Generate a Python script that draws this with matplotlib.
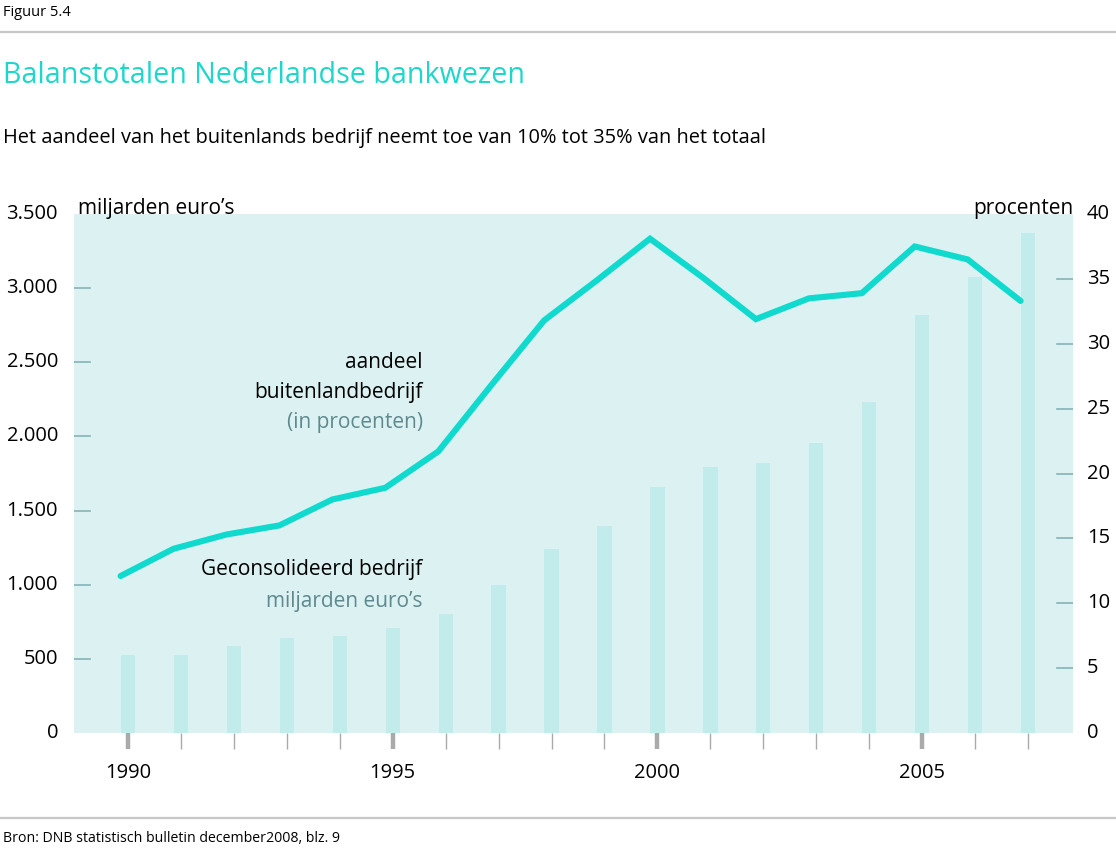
import matplotlib
matplotlib.use("Agg")
import matplotlib.pyplot as plt
import numpy as np

plt.rcParams["font.family"] = ["Open Sans", "DejaVu Sans"]

# data
years = list(range(1990, 2008))
balans_mld = [525, 526, 588, 644, 656, 711, 804, 1000, 1241, 1397,
              1660, 1791, 1822, 1953, 2234, 2816, 3078, 3375]
aandeel_pct = [12.1, 14.2, 15.3, 16.0, 18.0, 18.9, 21.7, 26.8, 31.8, 34.9,
               38.1, 35.1, 31.9, 33.5, 33.9, 37.5, 36.5, 33.3]
left_ticks = [500, 1000, 1500, 2000, 2500, 3000]
left_labels = ["500", "1.000", "1.500", "2.000", "2.500", "3.000"]
right_ticks = [5, 10, 15, 20, 25, 30, 35]
year_labels = [1990, 1995, 2000, 2005]

BG = "#dcf1f2"
BAR = "#c2ebeb"
LINE = "#10dacd"
TITLE = "#1fd6cb"
GREY_TXT = "#5e8a8f"
TICK = "#86b3b9"
RULE = "#c8c8c8"

fig = plt.figure(figsize=(11.16, 8.48), dpi=100)
ax = fig.add_axes([0.0663, 0.1356, 0.8952, 0.612])
ax.set_facecolor(BG)
for s in ax.spines.values():
    s.set_visible(False)

ax.bar(years, balans_mld, width=0.27, color=BAR, zorder=2)
ax.set_xlim(1988.98, 2007.85)
ax.set_ylim(0, 3500)

ax2 = ax.twinx()
for s in ax2.spines.values():
    s.set_visible(False)
ax2.plot(np.array(years) - 0.14, aandeel_pct, color=LINE, linewidth=4.4,
         solid_joinstyle="miter", solid_capstyle="round", zorder=3)
ax2.set_ylim(0, 40)


def fig_y(axis, v):
    return axis.transData.transform((0, v))[1] / fig.bbox.height


# left axis: labels outside, short marks inside the plot
ax.set_yticks([])
ax2.set_yticks([])
for v, lab in zip(left_ticks, left_labels):
    ax.plot([0, 0.016], [v, v], transform=ax.get_yaxis_transform(),
            color=TICK, linewidth=1.2, zorder=4)
    fig.text(0.052, fig_y(ax, v), lab, ha="right", va="center", fontsize=14.5)
fig.text(0.052, fig_y(ax, 0), "0", ha="right", va="center", fontsize=14.5)
fig.text(0.052, fig_y(ax, 3500), "3.500", ha="right", va="center", fontsize=14.5)

for v in right_ticks:
    ax2.plot([0.984, 1.0], [v, v], transform=ax2.get_yaxis_transform(),
             color=TICK, linewidth=1.2, zorder=4)
    fig.text(0.974, fig_y(ax2, v), str(v), ha="left", va="center", fontsize=14.5)
for v in (0, 40):
    fig.text(0.974, fig_y(ax2, v), str(v), ha="left", va="center", fontsize=14.5)

# x axis ticks below the plot
ax.set_xticks([])
for y in years:
    major = y in year_labels
    ax.plot([y, y], [0.0, -0.03], transform=ax.get_xaxis_transform(),
            color="#aaaaaa", linewidth=3.2 if major else 1.0, clip_on=False,
            solid_capstyle="butt")
for y in year_labels:
    ax.text(y, -0.078, str(y), transform=ax.get_xaxis_transform(),
            ha="center", va="center", fontsize=14.5)

# axis captions
ax.text(0.004, 1.01, "miljarden euro\u2019s", transform=ax.transAxes,
        ha="left", va="center", fontsize=15)
ax.text(1.0, 1.01, "procenten", transform=ax.transAxes,
        ha="right", va="center", fontsize=15)

# series labels
lx = 0.349
ax.text(lx, 0.714, "aandeel", transform=ax.transAxes, ha="right", va="center", fontsize=15)
ax.text(lx, 0.656, "buitenlandbedrijf", transform=ax.transAxes, ha="right", va="center", fontsize=15)
ax.text(lx, 0.598, "(in procenten)", transform=ax.transAxes, ha="right", va="center",
        fontsize=15, color=GREY_TXT)
ax.text(lx, 0.315, "Geconsolideerd bedrijf", transform=ax.transAxes, ha="right",
        va="center", fontsize=15)
ax.text(lx, 0.253, "miljarden euro\u2019s", transform=ax.transAxes, ha="right",
        va="center", fontsize=15, color=GREY_TXT)

# header and footer
fig.text(0.003, 0.985, "Figuur 5.4", ha="left", va="center", fontsize=10.5)
fig.add_artist(plt.Line2D([0, 1], [0.962, 0.962], color=RULE, linewidth=1.6))
fig.text(0.003, 0.911, "Balanstotalen Nederlandse bankwezen", ha="left", va="center",
         fontsize=20.6, color=TITLE)
fig.text(0.003, 0.837,
         "Het aandeel van het buitenlands bedrijf neemt toe van 10% tot 35% van het totaal",
         ha="left", va="center", fontsize=14.4)
fig.add_artist(plt.Line2D([0, 1], [0.035, 0.035], color=RULE, linewidth=1.6))
fig.text(0.003, 0.011, "Bron: DNB statistisch bulletin december2008, blz. 9",
         ha="left", va="center", fontsize=10.2)

fig.savefig("out.png", dpi=100)
